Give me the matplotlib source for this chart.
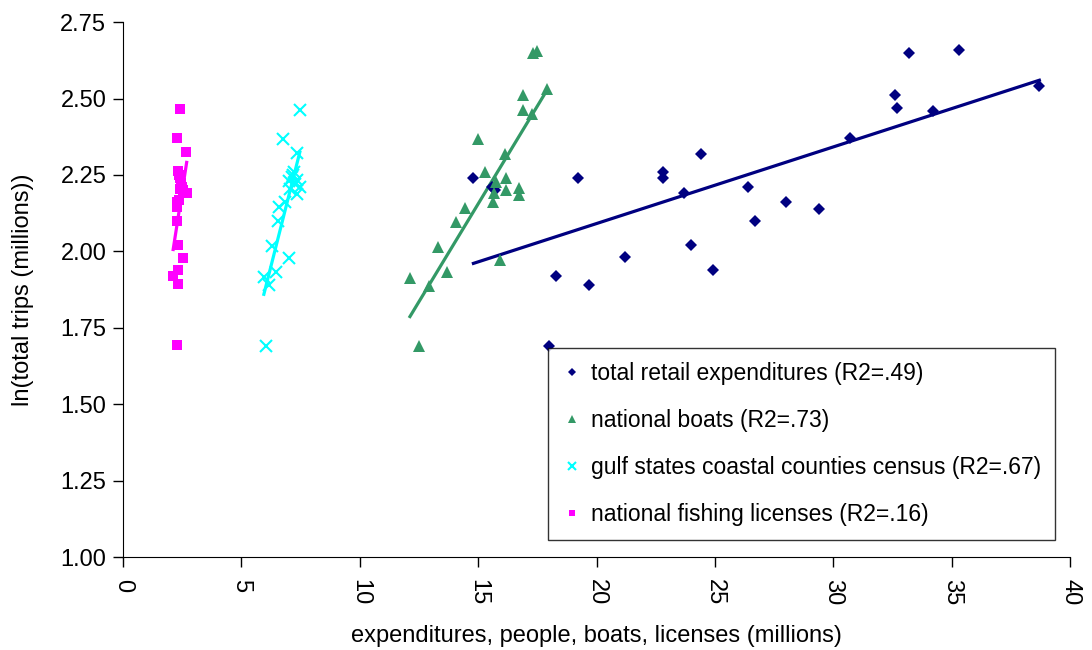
import matplotlib

matplotlib.use("Agg")
import matplotlib.pyplot as plt
import numpy as np

plt.rcParams["font.family"] = ["Liberation Sans", "DejaVu Sans"]

# total retail expenditures (millions) vs ln(total trips)
retail_x = [14.8, 15.7, 15.6, 18.0, 18.3, 19.2, 19.7, 21.2, 22.8, 22.8, 23.7, 24.0, 24.4,
            24.9, 26.4, 26.7, 28.0, 29.4, 30.7, 32.6, 32.7, 33.2, 34.2, 35.3, 38.7]
retail_y = [2.24, 2.20, 2.21, 1.69, 1.92, 2.24, 1.89, 1.98, 2.26, 2.24, 2.19, 2.02, 2.32,
            1.94, 2.21, 2.10, 2.16, 2.14, 2.37, 2.51, 2.47, 2.65, 2.46, 2.66, 2.54]

# national boats
boats_x = [17.33, 17.50, 17.89, 16.90, 16.90, 17.26, 15.00, 16.13, 15.29, 15.74, 16.17, 16.17,
           16.72, 16.72, 15.61, 14.44, 14.05, 13.32, 13.70, 12.12, 12.94, 15.92, 12.51, 15.65]
boats_y = [2.648, 2.656, 2.532, 2.513, 2.462, 2.451, 2.366, 2.318, 2.258, 2.228, 2.239, 2.200,
           2.208, 2.186, 2.162, 2.141, 2.095, 2.014, 1.934, 1.914, 1.886, 1.971, 1.690, 2.19]

# gulf states coastal counties census
gulf_x = [7.47, 6.74, 7.34, 7.22, 7.12, 7.34, 7.02, 7.47, 7.34, 7.05, 6.84, 6.59,
          6.53, 6.31, 7.02, 6.45, 5.95, 6.18, 6.03, 7.20, 7.25]
gulf_y = [2.464, 2.366, 2.322, 2.260, 2.242, 2.235, 2.231, 2.211, 2.187, 2.203, 2.162, 2.144,
          2.099, 2.018, 1.977, 1.933, 1.917, 1.890, 1.691, 2.250, 2.220]

# national fishing licenses
lic_x = [2.41, 2.27, 2.66, 2.34, 2.41, 2.48, 2.69, 2.38, 2.27, 2.27, 2.34, 2.52,
         2.34, 2.12, 2.34, 2.27, 2.38, 2.45, 2.55, 2.30, 2.40]
lic_y = [2.465, 2.370, 2.324, 2.264, 2.239, 2.211, 2.192, 2.168, 2.146, 2.100, 2.020, 1.979,
         1.939, 1.919, 1.893, 1.693, 2.250, 2.225, 2.200, 2.160, 2.205]

series = [
    ("total retail expenditures (R2=.49)", retail_x, retail_y, "#000080", "D", 6.5),
    ("national boats (R2=.73)", boats_x, boats_y, "#339966", "^", 8.5),
    ("gulf states coastal counties census (R2=.67)", gulf_x, gulf_y, "#00FFFF", "x", 8),
    ("national fishing licenses (R2=.16)", lic_x, lic_y, "#FF00FF", "s", 7),
]

fig = plt.figure(figsize=(10.92, 6.5), dpi=100)
ax = fig.add_axes([0.1126, 0.143, 0.8674, 0.823])

for label, xs, ys, color, marker, ms in series:
    xs = np.array(xs)
    ys = np.array(ys)
    if marker == "x":
        ax.plot(xs, ys, linestyle="none", marker=marker, color=color, markersize=ms,
                markeredgewidth=1.5, label=label, zorder=3)
    else:
        ax.plot(xs, ys, linestyle="none", marker=marker, color=color, markersize=ms,
                markeredgewidth=0, label=label, zorder=3)
    # linear trend line over the data range
    slope, intercept = np.polyfit(xs, ys, 1)
    fx = np.array([xs.min(), xs.max()])
    ax.plot(fx, slope * fx + intercept, color=color, linewidth=2.3, zorder=2)

ax.set_xlim(0, 40)
ax.set_ylim(1.0, 2.75)
ax.set_xticks(range(0, 41, 5))
ax.set_yticks(np.arange(1.0, 2.76, 0.25))
ax.set_yticklabels([f"{v:.2f}" for v in np.arange(1.0, 2.76, 0.25)])
ax.tick_params(axis="both", direction="out", length=7, width=1, labelsize=17, colors="black")
ax.tick_params(axis="y", pad=5)
ax.tick_params(axis="x", labelrotation=-90, pad=9)
ax.spines["top"].set_visible(False)
ax.spines["right"].set_visible(False)
ax.spines["left"].set_color("black")
ax.spines["bottom"].set_color("black")

ax.set_xlabel("expenditures, people, boats, licenses (millions)", fontsize=17, labelpad=14)
ax.set_ylabel("ln(total trips (millions))", fontsize=17, labelpad=19)

leg = ax.legend(loc="upper left", bbox_to_anchor=(0.449, 0.391), fontsize=16.5,
                frameon=True, fancybox=False, edgecolor="black", labelspacing=1.05,
                handlelength=0.8, handletextpad=0.45, borderpad=0.62, borderaxespad=0,
                markerscale=0.7)
leg.get_frame().set_linewidth(1.0)

fig.savefig("out.png", dpi=100)
